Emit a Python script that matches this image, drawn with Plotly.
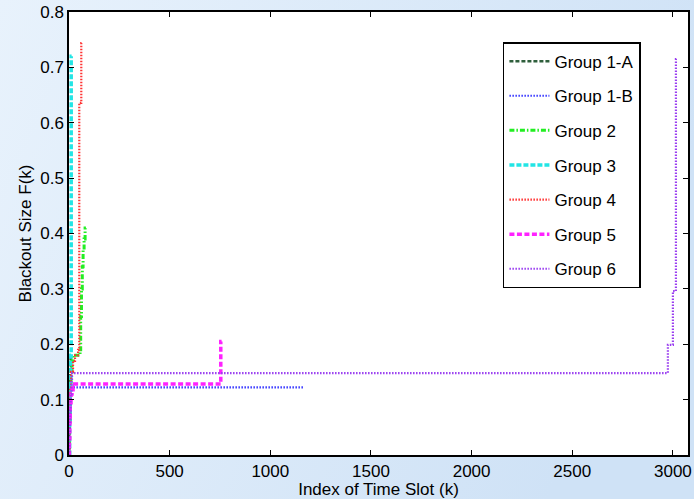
import plotly.graph_objects as go

# ---- data ----
g1a_x = [0, 1, 2, 3, 5, 8, 10]
g1a_y = [0.0, 0.05, 0.10, 0.14, 0.16, 0.175, 0.18]

g1b_x = [0, 2, 4, 6, 9, 12, 15, 1165]
g1b_y = [0.0, 0.03, 0.06, 0.09, 0.11, 0.12, 0.122, 0.122]

g2_x = [0, 3, 6, 10, 15, 20, 55, 58, 62, 66, 70, 75, 80, 84]
g2_y = [0.0, 0.06, 0.12, 0.15, 0.17, 0.18, 0.185, 0.25, 0.30, 0.34, 0.37, 0.39, 0.41, 0.41]

g3_x = [0, 3, 6, 9, 11, 13]
g3_y = [0.0, 0.06, 0.12, 0.18, 0.72, 0.72]

g4_x = [0, 3, 6, 10, 20, 30, 45, 51, 61, 63]
g4_y = [0.0, 0.06, 0.12, 0.15, 0.17, 0.18, 0.19, 0.636, 0.744, 0.744]

g5_x = [0, 2, 4, 6, 10, 15, 20, 28, 754, 758]
g5_y = [0.0, 0.03, 0.06, 0.09, 0.11, 0.118, 0.122, 0.128, 0.205, 0.205]

g6_x = [0, 2, 5, 8, 12, 15, 2975, 3000, 3015, 3017]
g6_y = [0.0, 0.04, 0.08, 0.11, 0.135, 0.148, 0.199, 0.296, 0.715, 0.715]

names = ["Group 1-A", "Group 1-B", "Group 2", "Group 3", "Group 4", "Group 5", "Group 6"]
xs = [g1a_x, g1b_x, g2_x, g3_x, g4_x, g5_x, g6_x]
ys = [g1a_y, g1b_y, g2_y, g3_y, g4_y, g5_y, g6_y]

colors = ["#2f5f3c", "#3a3aff", "#22ee22", "#22e5e5", "#ff3333", "#ff22ff", "#9a3ef0"]
dashes = ["4px,2px", "1.5px,1.5px", "5px,2px,1.5px,2px", "5px,2px", "1.5px,1.5px", "5px,2.5px", "1.5px,1.5px"]
widths = [2.5, 2.2, 3, 3.5, 2.2, 3.5, 2.2]

x_ticks = [0, 500, 1000, 1500, 2000, 2500, 3000]
y_ticks = [0, 0.1, 0.2, 0.3, 0.4, 0.5, 0.6, 0.7, 0.8]
y_tick_text = ["0", "0.1", "0.2", "0.3", "0.4", "0.5", "0.6", "0.7", "0.8"]

fig = go.Figure()
for i in range(len(names)):
    fig.add_trace(go.Scatter(
        x=xs[i], y=ys[i], name=names[i], mode="lines",
        line=dict(color=colors[i], dash=dashes[i], width=widths[i], shape="hv"),
        legendgroup="g%d" % i,
    ))

bg_svg = ("data:image/svg+xml;utf8,"
          "<svg xmlns='http://www.w3.org/2000/svg' width='694' height='499'>"
          "<defs><linearGradient id='g' x1='0' y1='0' x2='1' y2='0.3'>"
          "<stop offset='0' stop-color='%23e8f2fc'/><stop offset='1' stop-color='%23cfe2f6'/>"
          "</linearGradient></defs><rect width='694' height='499' fill='url(%23g)'/></svg>")

FONT = "Liberation Sans, Arial, sans-serif"
axis_common = dict(
    showline=True, linecolor="black", linewidth=1.5, mirror="ticks",
    ticks="inside", ticklen=5, tickcolor="black", tickwidth=1,
    showgrid=False, zeroline=False,
    tickfont=dict(family=FONT, size=17, color="black"),
)

fig.update_layout(
    width=694, height=499,
    margin=dict(l=69, r=6, t=12, b=44),
    paper_bgcolor="#dceaf8",
    plot_bgcolor="white",
    font=dict(family=FONT, color="black"),
    xaxis=dict(range=[0, 3075], tickvals=x_ticks, automargin=False,
               title=dict(text="Index of Time Slot (k)", font=dict(size=17), standoff=0),
               **axis_common),
    yaxis=dict(range=[0, 0.8], tickvals=y_ticks, ticktext=y_tick_text, automargin=False,
               title=dict(text="Blackout Size F(k)", font=dict(size=17), standoff=4),
               **axis_common),
    legend=dict(x=0.701, y=0.932, xanchor="left", yanchor="top",
                bgcolor="white", bordercolor="black", borderwidth=1.5,
                font=dict(family=FONT, size=17, color="black"),
                tracegroupgap=9.5, itemwidth=40),
    showlegend=True,
    images=[dict(source=bg_svg, xref="paper", yref="paper", x=-69/619, y=1+12/443,
                 sizex=694/619, sizey=499/443, xanchor="left", yanchor="top",
                 sizing="stretch", layer="below")],
    shapes=[dict(type="rect", xref="paper", yref="paper", x0=0, x1=1, y0=0, y1=1,
                 fillcolor="white", line=dict(width=0), layer="below")],
)

fig.write_html("out.html", config={"displayModeBar": False},
               post_script="document.body.style.margin='0';")
